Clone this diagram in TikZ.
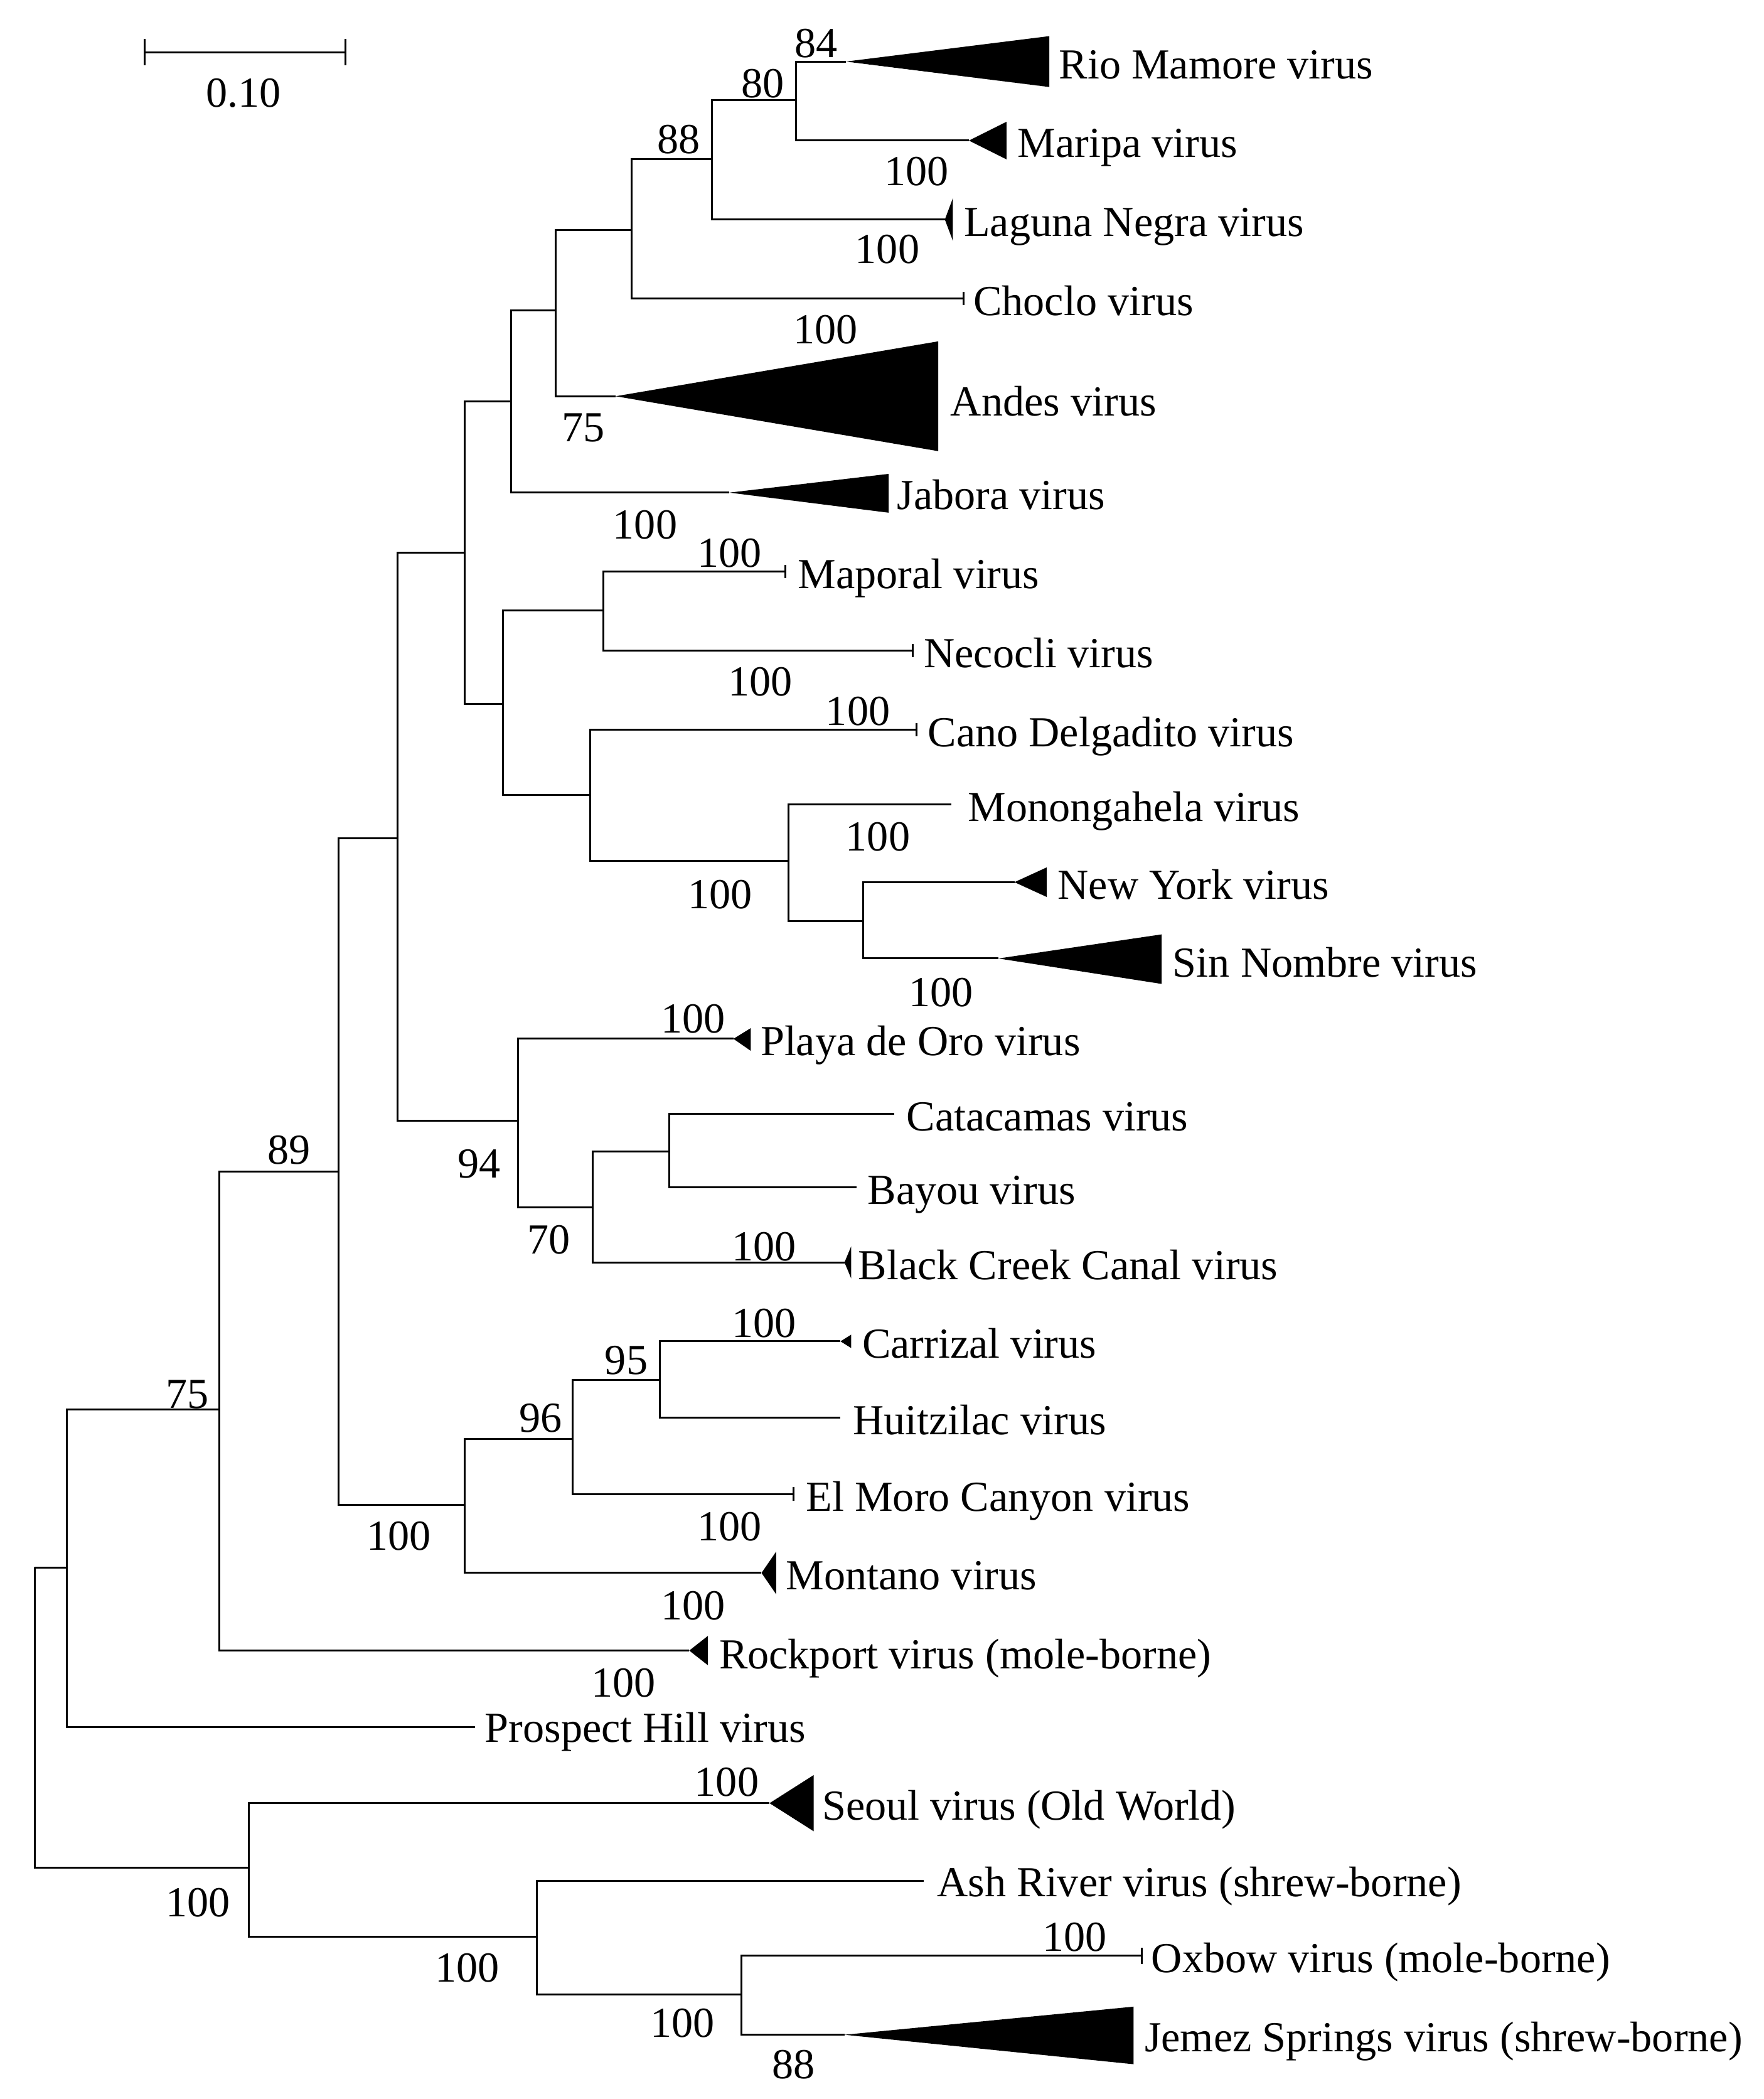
\documentclass[tikz,border=0pt]{standalone}
\usepackage{fontspec}
\setmainfont{Liberation Serif}
\usepackage{tikz}
\tikzset{
  >=latex,
}
\tikzstyle{branch}=[line width=0.8pt]
\tikzstyle{clade}=[fill=black]
\tikzstyle{every node}=[font=\fontsize{18.2}{21}\selectfont]
\tikzstyle{taxon}=[anchor=base west,inner sep=0pt,yshift=-1.5pt]
\tikzstyle{boot}=[anchor=base,inner sep=0pt,yshift=-1pt]

\begin{document}
\begin{tikzpicture}[x=0.02cm,y=-0.02cm]
    \useasboundingbox (0,0) rectangle (1318,1568);
    % scale bar
    \coordinate (sbL) at (108,39);
    \coordinate (sbR) at (258,39);
    \draw[branch] (sbL) -- (sbR);
    \draw[branch] (sbL) ++(0,-10) -- ++(0,20);
    \draw[branch] (sbR) ++(0,-10) -- ++(0,20);
    \node[boot] (sbLabel) at (182,78) {0.10};
    % internal nodes
    \coordinate (root) at (26,1171);
    \coordinate (nA) at (50,1171);
    \coordinate (nB) at (164,1053);
    \coordinate (nC) at (253,875);
    \coordinate (nD) at (297,626);
    \coordinate (nE) at (347,413);
    \coordinate (nF) at (382,300);
    \coordinate (nG) at (415,232);
    \coordinate (nH) at (472,172);
    \coordinate (nI) at (532,119);
    \coordinate (nJ) at (595,75);
    \coordinate (nK) at (376,526);
    \coordinate (nL) at (451,456);
    \coordinate (nM) at (441,594);
    \coordinate (nN) at (589,643);
    \coordinate (nO) at (645,688);
    \coordinate (nP) at (387,837);
    \coordinate (nQ) at (443,902);
    \coordinate (nR) at (500,860);
    \coordinate (nS) at (347,1124);
    \coordinate (nT) at (428,1075);
    \coordinate (nU) at (493,1031);
    \coordinate (nV) at (186,1395);
    \coordinate (nW) at (401,1447);
    \coordinate (nX) at (554,1490);
    % leaf tips
    \coordinate (rioMamore) at (632,46);
    \coordinate (maripa) at (724,105);
    \coordinate (laguna) at (706,164);
    \coordinate (choclo) at (720,223);
    \coordinate (andes) at (460,296);
    \coordinate (jabora) at (545,368);
    \coordinate (maporal) at (587,427);
    \coordinate (necocli) at (682,486);
    \coordinate (cano) at (685,545);
    \coordinate (monongahela) at (711,601);
    \coordinate (newYork) at (758,659);
    \coordinate (sinNombre) at (746,716);
    \coordinate (playa) at (548,776);
    \coordinate (catacamas) at (668,832);
    \coordinate (bayou) at (640,887);
    \coordinate (blackCreek) at (631,943);
    \coordinate (carrizal) at (628,1002);
    \coordinate (huitzilac) at (628,1059);
    \coordinate (elMoro) at (593,1116);
    \coordinate (montano) at (569,1175);
    \coordinate (rockport) at (515,1233);
    \coordinate (prospect) at (355,1290);
    \coordinate (seoul) at (575,1347);
    \coordinate (ashRiver) at (690,1405);
    \coordinate (oxbow) at (853,1461);
    \coordinate (jemez) at (631,1520);
    % branches
    \draw[branch] (root) |- (nA) (root) |- (nV);
    \draw[branch] (nA) |- (nB) (nA) |- (prospect);
    \draw[branch] (nB) |- (nC) (nB) |- (rockport);
    \draw[branch] (nC) |- (nD) (nC) |- (nS);
    \draw[branch] (nD) |- (nE) (nD) |- (nP);
    \draw[branch] (nE) |- (nF) (nE) |- (nK);
    \draw[branch] (nF) |- (nG) (nF) |- (jabora);
    \draw[branch] (nG) |- (nH) (nG) |- (andes);
    \draw[branch] (nH) |- (nI) (nH) |- (choclo);
    \draw[branch] (nI) |- (nJ) (nI) |- (laguna);
    \draw[branch] (nJ) |- (rioMamore) (nJ) |- (maripa);
    \draw[branch] (nK) |- (nL) (nK) |- (nM);
    \draw[branch] (nL) |- (maporal) (nL) |- (necocli);
    \draw[branch] (nM) |- (cano) (nM) |- (nN);
    \draw[branch] (nN) |- (monongahela) (nN) |- (nO);
    \draw[branch] (nO) |- (newYork) (nO) |- (sinNombre);
    \draw[branch] (nP) |- (playa) (nP) |- (nQ);
    \draw[branch] (nQ) |- (nR) (nQ) |- (blackCreek);
    \draw[branch] (nR) |- (catacamas) (nR) |- (bayou);
    \draw[branch] (nS) |- (nT) (nS) |- (montano);
    \draw[branch] (nT) |- (nU) (nT) |- (elMoro);
    \draw[branch] (nU) |- (carrizal) (nU) |- (huitzilac);
    \draw[branch] (nV) |- (seoul) (nV) |- (nW);
    \draw[branch] (nW) |- (ashRiver) (nW) |- (nX);
    \draw[branch] (nX) |- (oxbow) (nX) |- (jemez);
    % collapsed clades
    \fill[clade] (rioMamore) -- ++(152,-19) -- ++(0,38) -- cycle;
    \fill[clade] (maripa) -- ++(28,-14) -- ++(0,28) -- cycle;
    \fill[clade] (laguna) -- ++(6,-16) -- ++(0,32) -- cycle;
    \fill[clade] (andes) -- ++(241,-41) -- ++(0,82) -- cycle;
    \fill[clade] (jabora) -- ++(119,-14) -- ++(0,29) -- cycle;
    \fill[clade] (newYork) -- ++(24,-11) -- ++(0,22) -- cycle;
    \fill[clade] (sinNombre) -- ++(122,-18) -- ++(0,37) -- cycle;
    \fill[clade] (playa) -- ++(13,-8) -- ++(0,17) -- cycle;
    \fill[clade] (blackCreek) -- ++(5,-12) -- ++(0,24) -- cycle;
    \fill[clade] (carrizal) -- ++(8,-5) -- ++(0,10) -- cycle;
    \fill[clade] (montano) -- ++(11,-16) -- ++(0,32) -- cycle;
    \fill[clade] (rockport) -- ++(14,-11) -- ++(0,22) -- cycle;
    \fill[clade] (seoul) -- ++(33,-21) -- ++(0,42) -- cycle;
    \fill[clade] (jemez) -- ++(216,-21) -- ++(0,43) -- cycle;
    % single-sequence ticks
    \draw[branch] (choclo) ++(0,-5) -- ++(0,10);
    \draw[branch] (maporal) ++(0,-5) -- ++(0,10);
    \draw[branch] (necocli) ++(0,-5) -- ++(0,10);
    \draw[branch] (cano) ++(0,-5) -- ++(0,10);
    \draw[branch] (elMoro) ++(0,-5) -- ++(0,10);
    \draw[branch] (oxbow) ++(0,-6) -- ++(0,12);
    % taxa
    \node[taxon] (tRioMamore) at (791,56) {Rio Mamore virus};
    \node[taxon] (tMaripa) at (760,115) {Maripa virus};
    \node[taxon] (tLaguna) at (720,174) {Laguna Negra virus};
    \node[taxon] (tChoclo) at (727,233) {Choclo virus};
    \node[taxon] (tAndes) at (710,308) {Andes virus};
    \node[taxon] (tJabora) at (670,378) {Jabora virus};
    \node[taxon] (tMaporal) at (596,437) {Maporal virus};
    \node[taxon] (tNecocli) at (690,496) {Necocli virus};
    \node[taxon] (tCano) at (693,555) {Cano Delgadito virus};
    \node[taxon] (tMonongahela) at (723,611) {Monongahela virus};
    \node[taxon] (tNewYork) at (790,669) {New York virus};
    \node[taxon] (tSinNombre) at (876,727) {Sin Nombre virus};
    \node[taxon] (tPlaya) at (568,786) {Playa de Oro virus};
    \node[taxon] (tCatacamas) at (677,842) {Catacamas virus};
    \node[taxon] (tBayou) at (648,897) {Bayou virus};
    \node[taxon] (tBlackCreek) at (641,953) {Black Creek Canal virus};
    \node[taxon] (tCarrizal) at (644,1012) {Carrizal virus};
    \node[taxon] (tHuitzilac) at (637,1069) {Huitzilac virus};
    \node[taxon] (tElMoro) at (602,1126) {El Moro Canyon virus};
    \node[taxon] (tMontano) at (587,1185) {Montano virus};
    \node[taxon] (tRockport) at (537,1244) {Rockport virus (mole-borne)};
    \node[taxon] (tProspect) at (362,1299) {Prospect Hill virus};
    \node[taxon] (tSeoul) at (614,1357) {Seoul virus (Old World)};
    \node[taxon] (tAshRiver) at (700,1414) {Ash River virus (shrew-borne)};
    \node[taxon] (tOxbow) at (860,1471) {Oxbow virus (mole-borne)};
    \node[taxon] (tJemez) at (855,1530) {Jemez Springs virus (shrew-borne)};
    % bootstrap values
    \node[boot] (bJ) at (610,41) {84};
    \node[boot] (bI) at (570,71) {80};
    \node[boot] (bH) at (507,113) {88};
    \node[boot] (bMaripa) at (685,137) {100};
    \node[boot] (bLaguna) at (663,195) {100};
    \node[boot] (bAndes) at (617,255) {100};
    \node[boot] (bG) at (436,328) {75};
    \node[boot] (bJabora) at (482,401) {100};
    \node[boot] (bMaporal) at (545,422) {100};
    \node[boot] (bNecocli) at (568,518) {100};
    \node[boot] (bCano) at (641,540) {100};
    \node[boot] (bO) at (656,634) {100};
    \node[boot] (bN) at (538,677) {100};
    \node[boot] (bSinNombre) at (703,750) {100};
    \node[boot] (bPlaya) at (518,770) {100};
    \node[boot] (bP) at (358,878) {94};
    \node[boot] (bQ) at (410,935) {70};
    \node[boot] (bBlackCreek) at (571,940) {100};
    \node[boot] (bCarrizal) at (571,997) {100};
    \node[boot] (bU) at (468,1025) {95};
    \node[boot] (bT) at (404,1068) {96};
    \node[boot] (bElMoro) at (545,1149) {100};
    \node[boot] (bS) at (298,1156) {100};
    \node[boot] (bMontano) at (518,1208) {100};
    \node[boot] (bC) at (216,868) {89};
    \node[boot] (bB) at (140,1050) {75};
    \node[boot] (bRockport) at (466,1266) {100};
    \node[boot] (bSeoul) at (543,1340) {100};
    \node[boot] (bV) at (148,1430) {100};
    \node[boot] (bW) at (349,1479) {100};
    \node[boot] (bOxbow) at (803,1456) {100};
    \node[boot] (bX) at (510,1520) {100};
    \node[boot] (bJemez) at (593,1551) {88};
\end{tikzpicture}
\end{document}
